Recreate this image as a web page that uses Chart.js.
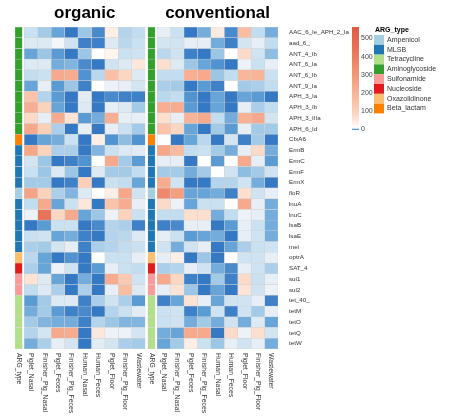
<!DOCTYPE html>
<html>
<head>
<meta charset="utf-8">
<script src="https://cdn.jsdelivr.net/npm/chart.js@4"></script>
<style>
  html, body { margin: 0; padding: 0; background: #fff; }
</style>
</head>
<body>
<canvas id="heatmap" width="465" height="418"></canvas>
<script>
// ---- data ----
const genes = ['AAC_6_Ie_APH_2_Ia', 'aad_6_', 'ANT_4_Ib', 'ANT_6_Ia', 'ANT_6_Ib', 'ANT_9_Ia',
    'APH_3_Ia', 'APH_3_Ib', 'APH_3_IIIa', 'APH_6_Id', 'CfxA6', 'ErmB', 'ErmC', 'ErmF', 'ErmX',
    'floR', 'lnuA', 'lnuC', 'lsaB', 'lsaE', 'mel', 'optrA', 'SAT_4', 'sul1', 'sul2',
    'tet_40_', 'tetM', 'tetO', 'tetQ', 'tetW'];

const geneTypes = ['Aminoglycoside', 'Aminoglycoside', 'Aminoglycoside', 'Aminoglycoside', 'Aminoglycoside',
    'Aminoglycoside', 'Aminoglycoside', 'Aminoglycoside', 'Aminoglycoside', 'Aminoglycoside',
    'Beta_lactam', 'MLSB', 'MLSB', 'MLSB', 'MLSB', 'Ampenicol', 'MLSB', 'MLSB', 'MLSB', 'MLSB', 'MLSB',
    'Oxazolidinone', 'Nucleoside', 'Sulfonamide', 'Sulfonamide',
    'Tetracycline', 'Tetracycline', 'Tetracycline', 'Tetracycline', 'Tetracycline'];

const samples = ['Piglet_Nasal', 'Finisher_Pig_Nasal', 'Piglet_Feces', 'Finisher_Pig_Feces',
    'Human_Nasal', 'Human_Feces', 'Piglet_Floor', 'Finisher_Pig_Floor', 'Wastewater'];

const groups = ['organic', 'conventional'];

// one row per gene, one value per sample
const organic = [
    [8, 5.5, 3, 0.5, 5, 1.5, 40, 6.5, 7.5],
    [10, 10, 13, 8.5, 1, 1, 10, 7, 8],
    [3, 5, 2.5, 0.5, 5, 15, 30, 8, 8.5],
    [10, 10, 3.5, 4, 1.5, 0.5, 8.5, 10, 50],
    [7.5, 8, 240, 230, 2, 7, 160, 90, 10],
    [3, 11, 2.5, 5, 1, 15, 12, 11, 9],
    [150, 6.5, 2.5, 0.5, 10.5, 0.5, 1.5, 1, 1],
    [220, 100, 3, 0.5, 10, 0.5, 11, 10, 5.5],
    [80, 11, 230, 60, 2.5, 3.5, 220, 11, 11],
    [240, 110, 6, 0.5, 11, 0.5, 11, 8, 5.5],
    [0.5, 3, 3.5, 8, 0.5, 40, 2, 4.5, 2],
    [250, 100, 6, 6, 0.5, 4, 8, 10, 10.5],
    [9, 5, 0.5, 1, 2, 15, 240, 5.5, 2.5],
    [8, 5, 10, 5, 0.5, 10, 5.5, 5.5, 7.5],
    [5.5, 5.5, 0.5, 1, 110, 0.5, 8, 7.5, 3],
    [260, 100, 6, 4, 10, 15, 40, 250, 8.5],
    [7.5, 240, 3, 8, 50, 0.5, 150, 230, 11],
    [12, 440, 90, 240, 3, 5, 12, 100, 8],
    [0.5, 2.5, 8, 8, 0.5, 1.5, 6.5, 6, 1],
    [8, 8.5, 3, 3.5, 1, 0.5, 6.5, 7, 10],
    [6, 5.5, 9, 11, 1, 6, 6.5, 7.5, 8],
    [7, 3, 0.5, 2, 0.5, 15, 8, 8, 11],
    [6, 3, 12, 8.5, 0.5, 2.5, 11, 8, 7.5],
    [60, 10, 3, 0.5, 3.5, 0.5, 230, 130, 8.5],
    [7.5, 10, 6, 0.5, 6, 0.5, 11, 170, 10],
    [2.5, 5.5, 10, 10, 1, 6, 8.5, 6, 2.5],
    [3.5, 5.5, 2.5, 1, 1.5, 0.5, 6.5, 8, 10.5],
    [5.5, 4, 3.5, 3.5, 1, 6.5, 5, 4, 4],
    [6.5, 9, 240, 230, 0.5, 50, 12, 12, 9],
    [3.5, 6, 11, 9, 0.5, 10.5, 9, 6, 5.5]
];

const conventional = [
    [11, 8, 0.5, 3.5, 45, 1.5, 170, 7.5, 3.5],
    [9, 8.5, 11, 11, 3.5, 1, 9, 11, 7.5],
    [7, 8.5, 1, 0.5, 5, 15, 80, 8.5, 4.5],
    [70, 10, 5, 3, 2, 0.5, 12, 8, 11],
    [7.5, 7.5, 220, 240, 5, 7.5, 190, 200, 8],
    [6, 5.5, 0.5, 2.5, 1, 15, 5.5, 6, 7.5],
    [7, 7.5, 2, 0.5, 3, 0.5, 3, 2.5, 0.5],
    [220, 230, 2.5, 0.5, 3, 0.5, 11, 6, 7.5],
    [70, 11, 200, 240, 7.5, 3.5, 210, 240, 9],
    [150, 90, 3, 0.5, 5.5, 2.5, 11, 5.5, 5.5],
    [15, 0.5, 3, 7, 0.5, 9, 1, 5.5, 0.5],
    [250, 180, 7.5, 8, 5.5, 3.5, 11, 80, 3.5],
    [11, 11, 0.5, 15, 2.5, 15, 240, 11, 2.5],
    [5.5, 5.5, 3.5, 5.5, 15, 8.5, 4.5, 5.5, 8.5],
    [230, 8.5, 0.5, 0.5, 6.5, 6.5, 8.5, 3.5, 0.5],
    [360, 280, 3, 3, 3.5, 1, 70, 8.5, 11],
    [80, 12, 3, 8, 8, 15, 240, 11, 3.5],
    [7.5, 7.5, 70, 70, 3.5, 7.5, 12, 11, 3.5],
    [1, 1.5, 11, 11, 0.5, 2.5, 11, 8, 3.5],
    [11, 8, 2.5, 3, 3.5, 0.5, 11, 8.5, 3.5],
    [8.5, 3.5, 8.5, 11, 0.5, 3, 6, 8, 8.5],
    [11, 40, 0.5, 5, 0.5, 15, 8.5, 8.5, 11],
    [6, 6.5, 11, 8.5, 3.5, 1.5, 11, 8.5, 6],
    [240, 90, 1, 0.5, 5.5, 1, 80, 8, 11],
    [11, 60, 5, 0.5, 3, 0.5, 60, 8.5, 12],
    [1, 3, 60, 11, 3, 8.5, 8.5, 11, 1],
    [8, 8.5, 1, 2.5, 8.5, 1, 8.5, 5.5, 11],
    [8, 8.5, 3.5, 5.5, 3.5, 8.5, 3.5, 10, 3],
    [3.5, 3, 240, 240, 0.5, 80, 12, 70, 9],
    [3, 5.5, 40, 8, 5, 11, 8.5, 11, 3.5]
];

const typeNames = ['Ampenicol', 'MLSB', 'Tetracycline', 'Aminoglycoside', 'Sulfonamide',
    'Nucleoside', 'Oxazolidinone', 'Beta_lactam'];
const typeColours = ['#a6cee3', '#1f78b4', '#b2df8a', '#33a02c', '#fb9a99', '#e31a1c', '#fdbf6f', '#ff7f00'];

const colourTicks = [0, 100, 200, 300, 400, 500];
const colourMax = 565;

// ---- colour scale (blue -> white -> red) ----
const colourStops = [
    [0, [44, 112, 192]],
    [2.5, [90, 155, 212]],
    [5, [155, 198, 230]],
    [8, [202, 225, 241]],
    [11, [231, 238, 245]],
    [15, [255, 255, 255]],
    [50, [252, 231, 220]],
    [100, [251, 210, 188]],
    [200, [248, 180, 152]],
    [300, [243, 152, 122]],
    [450, [232, 112, 86]],
    [565, [222, 90, 68]]
];

function valueColour(v) {
    for (let i = 1; i < colourStops.length; i++) {
        const [v1, c1] = colourStops[i];
        const [v0, c0] = colourStops[i - 1];
        if (v <= v1) {
            const t = (v - v0) / (v1 - v0);
            const c = c0.map((x, k) => Math.round(x + (c1[k] - x) * t));
            return `rgb(${c[0]},${c[1]},${c[2]})`;
        }
    }
    const last = colourStops[colourStops.length - 1][1];
    return `rgb(${last[0]},${last[1]},${last[2]})`;
}

// ---- column layout (in cell units) ----
const ARG_W = 0.54;
const ARG_GAP = 0.15;
const PANEL_GAP = 0.2;
const PANEL_STRIDE = ARG_W + ARG_GAP + samples.length + PANEL_GAP;
const FONT = '"Liberation Sans", Arial, sans-serif';
const CELL_BORDER = '#d2d2d2';

const columns = [];
groups.forEach((group, gi) => {
    const values = gi === 0 ? organic : conventional;
    const base = gi * PANEL_STRIDE;
    columns.push({
        group: group,
        label: 'ARG_type',
        start: base,
        end: base + ARG_W,
        colours: geneTypes.map(t => typeColours[typeNames.indexOf(t)])
    });
    samples.forEach((s, j) => {
        const start = base + ARG_W + ARG_GAP + j;
        columns.push({
            group: group,
            label: s,
            start: start,
            end: start + 1,
            colours: values.map(row => valueColour(row[j]))
        });
    });
});

const datasets = columns.map(col => ({
    label: col.group + ' ' + col.label,
    data: genes.map(() => [col.start, col.end]),
    backgroundColor: col.colours,
    borderColor: CELL_BORDER,
    borderWidth: 0.5,
    borderSkipped: false,
    barPercentage: 1,
    categoryPercentage: 1
}));

// ---- extra drawing: titles, column labels, colour bar, ARG legend ----
const decorations = {
    id: 'decorations',
    afterDraw(chart) {
        const ctx = chart.ctx;
        const xs = chart.scales.x;
        const area = chart.chartArea;
        ctx.save();

        // panel titles
        ctx.fillStyle = '#000';
        ctx.font = 'bold 17px ' + FONT;
        ctx.textAlign = 'center';
        ctx.textBaseline = 'alphabetic';
        groups.forEach((group, gi) => {
            const base = gi * PANEL_STRIDE + ARG_W + ARG_GAP;
            const mid = (xs.getPixelForValue(base) + xs.getPixelForValue(base + samples.length)) / 2;
            ctx.fillText(group, mid, 18);
        });

        // column labels, rotated to read downwards
        ctx.fillStyle = '#333';
        ctx.font = '6.8px ' + FONT;
        ctx.textAlign = 'left';
        ctx.textBaseline = 'middle';
        columns.forEach(col => {
            const x = xs.getPixelForValue((col.start + col.end) / 2);
            ctx.save();
            ctx.translate(x, area.bottom + 4);
            ctx.rotate(Math.PI / 2);
            ctx.fillText(col.label, 0, 0);
            ctx.restore();
        });

        // colour bar
        const barX = 352, barW = 7, barTop = 27, barBottom = 130;
        const perUnit = (barBottom - barTop) / colourMax;
        for (let y = barTop; y < barBottom; y++) {
            const v = (barBottom - (y + 0.5)) / perUnit;
            ctx.fillStyle = valueColour(v);
            ctx.fillRect(barX, y, barW, 1);
        }
        ctx.fillStyle = '#444';
        ctx.font = '7px ' + FONT;
        ctx.textAlign = 'left';
        colourTicks.forEach(t => {
            ctx.fillText(String(t), barX + barW + 2, barBottom - t * perUnit - 0.5);
        });

        // ARG_type legend
        const legX = 374, legY = 35, swW = 10, swH = 9.8;
        ctx.fillStyle = '#000';
        ctx.font = 'bold 7px ' + FONT;
        ctx.fillText('ARG_type', legX + 1, 30.5);
        ctx.font = '7px ' + FONT;
        typeNames.forEach((name, i) => {
            ctx.fillStyle = typeColours[i];
            ctx.fillRect(legX, legY + i * swH, swW, swH);
            ctx.fillStyle = '#333';
            ctx.fillText(name, legX + swW + 3, legY + i * swH + swH / 2);
        });

        ctx.restore();
    }
};

new Chart(document.getElementById('heatmap'), {
    type: 'bar',
    data: { labels: genes, datasets: datasets },
    options: {
        indexAxis: 'y',
        responsive: false,
        animation: false,
        devicePixelRatio: 1,
        layout: { padding: { left: 15, top: 27, bottom: 69, right: 0 } },
        plugins: {
            legend: { display: false },
            tooltip: { enabled: false }
        },
        scales: {
            x: {
                type: 'linear',
                display: false,
                stacked: false,
                min: 0,
                max: PANEL_STRIDE + ARG_W + ARG_GAP + samples.length
            },
            y: {
                type: 'category',
                position: 'right',
                stacked: true,
                grid: { display: false },
                border: { display: false },
                ticks: {
                    color: '#333',
                    padding: 3,
                    autoSkip: false,
                    font: { size: 6.2, family: FONT }
                },
                afterFit(scale) {
                    scale.width = 187;
                }
            }
        }
    },
    plugins: [decorations]
});
</script>
</body>
</html>
